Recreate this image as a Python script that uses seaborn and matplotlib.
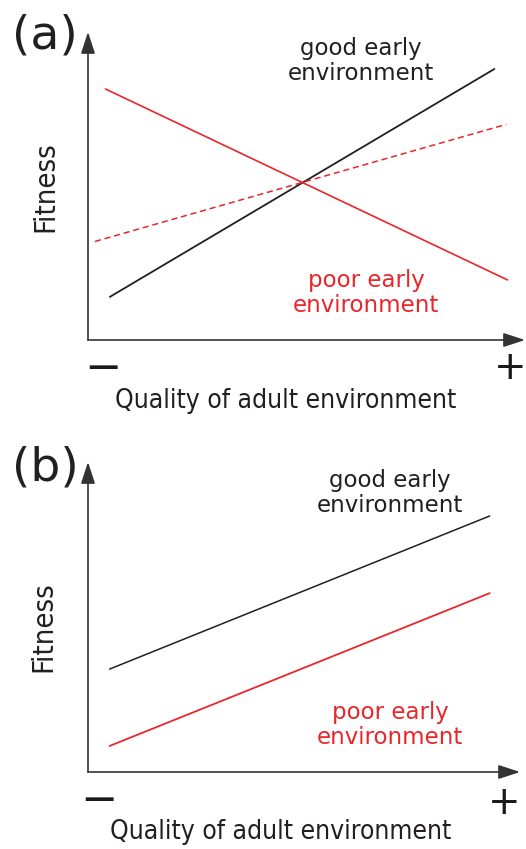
import matplotlib
matplotlib.use("Agg")
import matplotlib.pyplot as plt
import matplotlib.font_manager as fm
import seaborn as sns
import pandas as pd

# ---- data (conceptual reaction norms, 0-100 scale) ----
quality_a = [5, 93]          # black line x-range
good_a = [14, 88]
poor_x_a = [4, 96]
poor_a = [81.5, 19.5]
dash_x_a = [1.6, 95.7]
dash_a = [32, 70]

quality_b = [5, 93]
good_b = [33.2, 82.6]
poor_b = [8.4, 57.7]

labels = ["good early\nenvironment", "poor early\nenvironment"]
panel_tags = ["(a)", "(b)"]
x_title = "Quality of adult environment"
y_title = "Fitness"

W, H = 526, 849
BLACK = "#231f20"
RED = "#e8262b"
AXIS = "#333333"

sns.set_theme(style="white")
plt.rcParams["font.family"] = ["DejaVu Sans"]

# condensed face for axis titles if it exists
has_cond = any(f.name == "DejaVu Sans" and "ondensed" in str(f.stretch) + f.fname
               for f in fm.fontManager.ttflist)
cond = "condensed" if has_cond else "normal"
xt_size = 19 if has_cond else 17
yt_size = 21 if has_cond else 19


def px(x, y):
    return x / W, 1 - y / H


def make_axes(fig, x0, y0, x1, y1):
    ax = fig.add_axes([x0 / W, 1 - y0 / H, (x1 - x0) / W, (y0 - y1) / H])
    ax.set_xlim(0, 100)
    ax.set_ylim(0, 100)
    ax.axis("off")
    arrow = dict(arrowstyle="-|>,head_length=1.1,head_width=0.36",
                 lw=1.2, color=AXIS, shrinkA=0, shrinkB=0)
    ax.annotate("", xy=(1, 0), xytext=(0, 0), xycoords="axes fraction",
                arrowprops=arrow, annotation_clip=False)
    ax.annotate("", xy=(0, 1), xytext=(0, 0), xycoords="axes fraction",
                arrowprops=arrow, annotation_clip=False)
    return ax


fig = plt.figure(figsize=(W / 100, H / 100), dpi=100)

# ---- panel (a) ----
ax1 = make_axes(fig, 88, 340, 525, 32)
sns.lineplot(x=quality_a, y=good_a, color=BLACK, lw=1.3, ax=ax1)
sns.lineplot(x=poor_x_a, y=poor_a, color=RED, lw=1.2, ax=ax1)
sns.lineplot(x=dash_x_a, y=dash_a, color=RED, lw=1.1, ax=ax1,
             linestyle=(0, (4, 2.5)))

# ---- panel (b) ----
ax2 = make_axes(fig, 88, 772, 520, 462)
sns.lineplot(x=quality_b, y=good_b, color=BLACK, lw=1.1, ax=ax2)
sns.lineplot(x=quality_b, y=poor_b, color=RED, lw=1.3, ax=ax2)

# ---- text ----
texts = [
    # (a)
    (panel_tags[0], 12, 36, 34, BLACK, "left", 0, "normal"),
    (y_title, 45, 187, yt_size, BLACK, "center", 90, cond),
    (x_title, 286, 401, xt_size, BLACK, "center", 0, cond),
    (labels[0], 361, 61, 16.5, BLACK, "center", 0, "normal"),
    (labels[1], 366, 293, 16.5, RED, "center", 0, "normal"),
    # (b)
    (panel_tags[1], 12, 468, 34, BLACK, "left", 0, "normal"),
    (y_title, 43, 627, yt_size, BLACK, "center", 90, cond),
    (x_title, 281, 832, xt_size, BLACK, "center", 0, cond),
    (labels[0], 390, 493, 16.5, BLACK, "center", 0, "normal"),
    (labels[1], 390, 725, 16.5, RED, "center", 0, "normal"),
]
for s, x, y, size, c, ha, rot, st in texts:
    fig.text(*px(x, y), s, fontsize=size, color=c, ha=ha, va="center",
             rotation=rot, fontstretch=st, linespacing=1.12,
             multialignment="center")

# minus / plus at the ends of the x axis
for (x, y, s, size) in [(103, 364, "\u2212", 32), (510, 364, "+", 28),
                        (99, 796, "\u2212", 32), (504, 799, "+", 28)]:
    fig.text(*px(x, y), s, fontsize=size, color="#1a1a1a", ha="center",
             va="center_baseline")

fig.savefig("out.png", dpi=100)
